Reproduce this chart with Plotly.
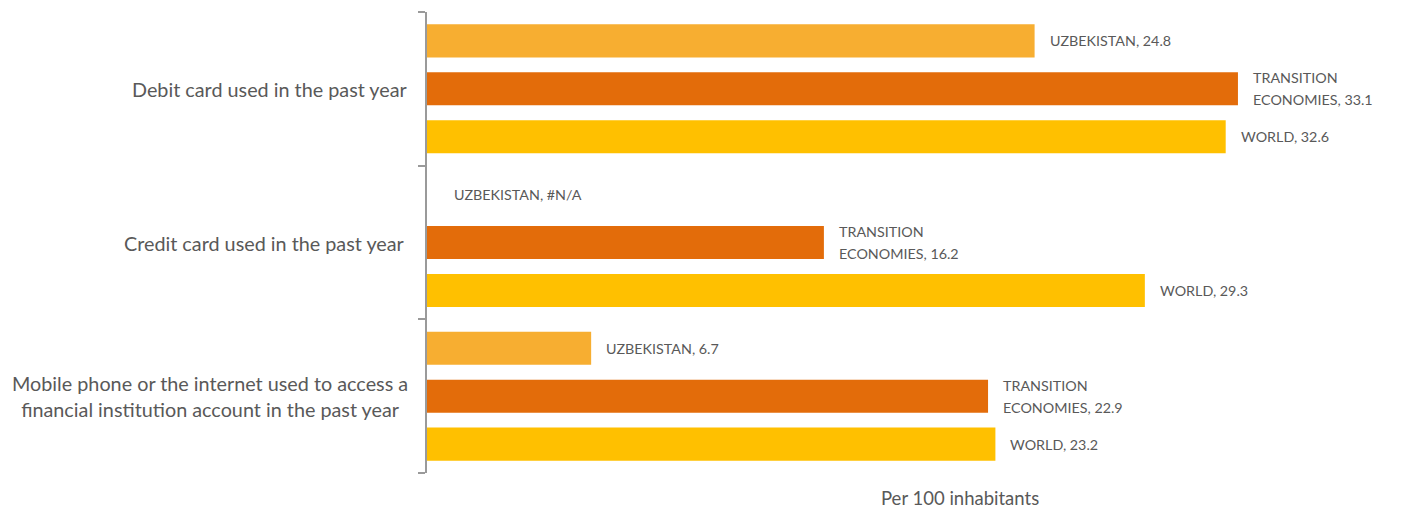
import plotly.graph_objects as go

categories = ["Debit card used in the past year",
              "Credit card used in the past year ",
              "Mobile phone or the internet used to access a<br>financial institution account in the past year"]
series_names = ["UZBEKISTAN", "TRANSITION<br>ECONOMIES", "WORLD"]
uzbekistan = [24.8, None, 6.7]
transition = [33.1, 16.2, 22.9]
world = [32.6, 29.3, 23.2]
x_title = "Per 100 inhabitants"

colors = ["#F7AE31", "#E36C0A", "#FFC000"]
series = [uzbekistan, transition, world]
offsets = [-0.312, 0.0, 0.312]
bar_w = 0.215
grp = list(range(len(categories)))
FONT = "Lato"
GREY = "#595959"
AXIS = "#9A9A9A"
LINE_H = 22

W, H = 1395, 502
ML, MR, MT, MB = 419, 45, 4, 37

fig = go.Figure()
annotations = []
for name, vals, col, off in zip(series_names, series, colors, offsets):
    ys = [g + off for g in grp]
    fig.add_trace(go.Bar(
        x=[v if v is not None else 0 for v in vals], y=ys, orientation="h",
        width=bar_w, marker=dict(color=col, line=dict(width=0)),
        name=name.replace("<br>", " "), showlegend=False, hoverinfo="skip"))
    for v, y in zip(vals, ys):
        label = f"{name}, {v}" if v is not None else f"{name}, #N/A"
        lines = label.split("<br>")
        n = len(lines)
        for i, ln in enumerate(lines):
            annotations.append(dict(
                x=v if v is not None else 0, y=y, xref="x", yref="y",
                text=ln, showarrow=False, xanchor="left", yanchor="middle",
                align="left", xshift=13 if v is not None else 25,
                yshift=((n - 1) / 2 - i) * LINE_H,
                font=dict(family=FONT, size=14.3, color=GREY)))

for g, cat in zip(grp, categories):
    annotations.append(dict(
        x=0, y=g, xref="paper", yref="y", text=cat, showarrow=False,
        xanchor="right", yanchor="middle", align="center", xshift=-17,
        font=dict(family=FONT, size=19.8, color=GREY)))

annotations.append(dict(
    x=(952 - ML) / (W - ML - MR), y=0, xref="paper", yref="paper",
    yanchor="middle", yshift=-25, text=x_title, showarrow=False,
    borderpad=0, font=dict(family=FONT, size=18.5, color=GREY)))

fig.update_layout(
    width=W, height=H,
    margin=dict(l=ML, r=MR, t=MT, b=MB),
    paper_bgcolor="white", plot_bgcolor="white",
    barmode="overlay",
    annotations=annotations,
    xaxis=dict(range=[0, 38], showgrid=False, zeroline=False,
               showticklabels=False, ticks="", showline=False,
               fixedrange=True),
    yaxis=dict(range=[2.5, -0.5], showgrid=False, zeroline=False,
               showticklabels=False, ticks="",
               showline=True, linecolor=AXIS, linewidth=1.5,
               tickvals=[],
               minor=dict(tickvals=[-0.5, 0.5, 1.5, 2.5], ticks="outside",
                          ticklen=7, tickcolor=AXIS, tickwidth=1.5,
                          showgrid=False)),
)

fig.write_html("out.html")
